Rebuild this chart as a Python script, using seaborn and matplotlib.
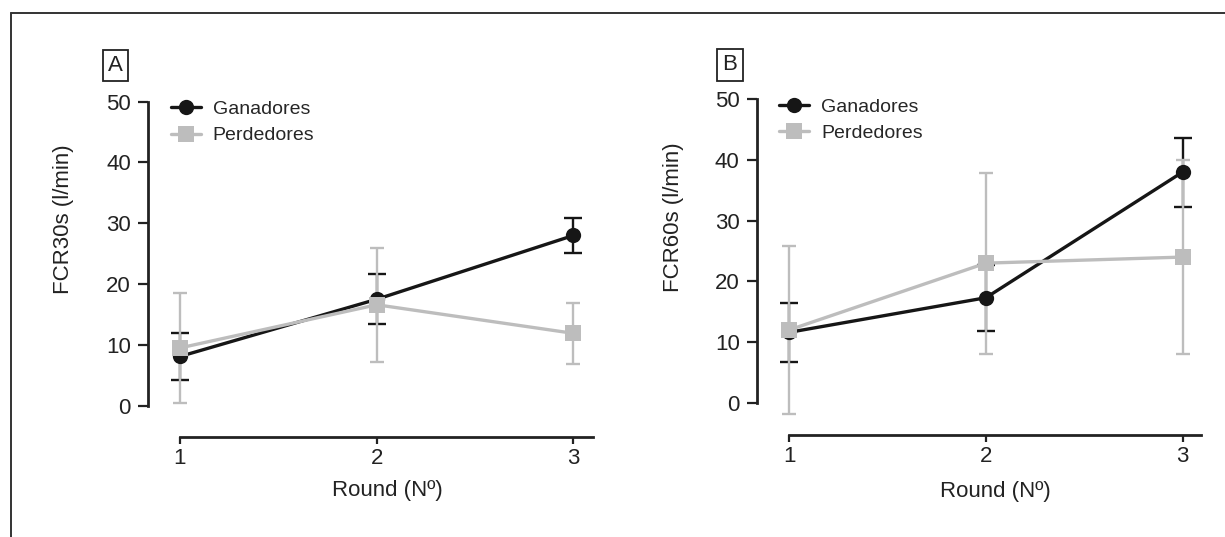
import numpy as np
import pandas as pd
import matplotlib
matplotlib.use("Agg")
import matplotlib.pyplot as plt
import seaborn as sns
from matplotlib.lines import Line2D

# ---------------- data ----------------
rounds = [1, 2, 3]
groups = ["Ganadores", "Perdedores"]

a_gan_mean = [8.1, 17.5, 28.0]
a_gan_sd = [3.8, 4.1, 2.9]
a_per_mean = [9.5, 16.6, 11.9]
a_per_sd = [9.1, 9.4, 5.0]

b_gan_mean = [11.6, 17.3, 38.0]
b_gan_sd = [4.9, 5.4, 5.7]
b_per_mean = [12.0, 23.0, 24.0]
b_per_sd = [13.9, 14.9, 16.0]

y_ticks = [0, 10, 20, 30, 40, 50]
x_label = "Round (Nº)"
y_label_a = "FCR30s (l/min)"
y_label_b = "FCR60s (l/min)"
panel_letters = ["A", "B"]

# ---------------- style ----------------
sns.set_style("ticks")
plt.rcParams["font.family"] = ["Liberation Sans", "DejaVu Sans"]

W, H = 1225, 537
fig = plt.figure(figsize=(W / 100, H / 100), dpi=100)

BLACK = "#161616"
GRAY = "#bdbdbd"
AXC = "#222222"
palette = {"Ganadores": BLACK, "Perdedores": GRAY}
markers = {"Ganadores": "o", "Perdedores": "s"}


def px(x0, y0, x1, y1):
    """pixel box (left, top, right, bottom) -> fig fraction rect"""
    return [x0 / W, 1 - y1 / H, (x1 - x0) / W, (y1 - y0) / H]


panels = [
    dict(rect=px(148.3, 101.7, 593.1, 437.3), xlim=(0.839, 3.100), ylim=(-5.2, 50),
         gan=(a_gan_mean, a_gan_sd), per=(a_per_mean, a_per_sd), ylabel=y_label_a,
         ylab_xy=(-0.167, 0.650), xlab_xy=(0.537, -0.127),
         leg_xy=(170.8, 100.5), box_xy=(115.5, 65.5)),
    dict(rect=px(757.0, 99.3, 1201.4, 435.0), xlim=(0.836, 3.096), ylim=(-5.32, 50),
         gan=(b_gan_mean, b_gan_sd), per=(b_per_mean, b_per_sd), ylabel=y_label_b,
         ylab_xy=(-0.165, 0.650), xlab_xy=(0.537, -0.137),
         leg_xy=(779.3, 98.0), box_xy=(730.0, 65)),
]

for i, p in enumerate(panels):
    ax = fig.add_axes(p["rect"])
    df = pd.DataFrame({
        "Round": rounds * 2,
        "valor": list(p["gan"][0]) + list(p["per"][0]),
        "sd": list(p["gan"][1]) + list(p["per"][1]),
        "Grupo": ["Ganadores"] * 3 + ["Perdedores"] * 3,
    })
    # error bars (black below gray)
    for g, z in (("Ganadores", 1.5), ("Perdedores", 1.8)):
        sub = df[df["Grupo"] == g]
        ax.errorbar(sub["Round"], sub["valor"], yerr=sub["sd"], fmt="none",
                    ecolor=palette[g], elinewidth=1.7, capthick=1.7,
                    capsize=6.5 if g == "Ganadores" else 5.0, zorder=z)
    sns.lineplot(data=df, x="Round", y="valor", hue="Grupo", style="Grupo",
                 hue_order=groups, style_order=groups, palette=palette,
                 markers=markers, dashes=False, markersize=11,
                 markeredgewidth=0, linewidth=2.4, ax=ax, zorder=3)

    ax.set_xlim(*p["xlim"])
    ax.set_ylim(*p["ylim"])
    ax.set_xticks(rounds)
    ax.set_xticklabels([str(r) for r in rounds])
    ax.set_yticks(y_ticks)
    sns.despine(ax=ax)
    ax.spines["left"].set_bounds(0, 50)
    ax.spines["bottom"].set_bounds(1, p["xlim"][1])
    for s in ("left", "bottom"):
        ax.spines[s].set_linewidth(2.0)
        ax.spines[s].set_color(AXC)
    ax.tick_params(axis="y", length=7.5, width=1.6, pad=5.0, labelsize=16,
                   colors=AXC, labelcolor=AXC)
    ax.tick_params(axis="x", length=5, width=1.6, pad=3, labelsize=16,
                   colors=AXC, labelcolor=AXC)
    ax.set_xlabel(x_label, fontsize=16, color=AXC)
    ax.set_ylabel(p["ylabel"], fontsize=16, color=AXC)
    ax.yaxis.set_label_coords(*p["ylab_xy"])
    ax.xaxis.set_label_coords(*p["xlab_xy"])

    handles, labels = ax.get_legend_handles_labels()
    ax.legend(handles, labels, loc="upper left",
              bbox_to_anchor=(p["leg_xy"][0] / W, 1 - p["leg_xy"][1] / H),
              bbox_transform=fig.transFigure, frameon=False, fontsize=14,
              borderpad=0, borderaxespad=0, handlelength=1.55,
              handletextpad=0.6, labelspacing=0.45)

    bx, by = p["box_xy"]
    fig.text(bx / W, 1 - by / H, panel_letters[i], ha="center", va="center",
             fontsize=16, color=AXC,
             bbox=dict(boxstyle="square,pad=0.24", fc="white", ec=AXC, lw=1.3))

# outer frame lines (left and top)
fig.add_artist(Line2D([11 / W, 11 / W], [0, 1 - 13.3 / H], transform=fig.transFigure,
                      color="#333333", lw=1.4))
fig.add_artist(Line2D([11 / W, 1], [1 - 13.3 / H, 1 - 13.3 / H], transform=fig.transFigure,
                      color="#333333", lw=1.4))

fig.savefig("out.png", dpi=100, facecolor="white")
